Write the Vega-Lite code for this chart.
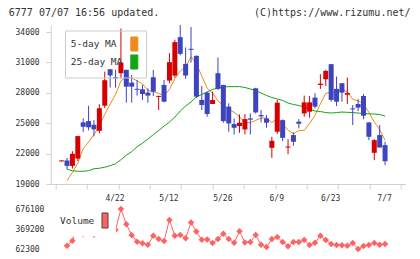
{
  "$schema": "https://vega.github.io/schema/vega-lite/v6.json",
  "width": 355,
  "height": 227,
  "autosize": {"type": "none"},
  "padding": {"left": 50.7, "top": 25, "right": 14.3, "bottom": 7},
  "background": "white",
  "config": {"view": {"stroke": null}, "font": "DejaVu Sans Mono"},
  "data": {
    "values": [
      {"k": 1, "o": 21230, "h": 21330, "l": 21230, "c": 21330},
      {"k": 2, "o": 21320, "h": 21580, "l": 20460, "c": 20790, "ma5": 19317, "ma25": 20457, "vol": 112400},
      {"k": 3, "o": 20790, "h": 22240, "l": 20520, "c": 21980, "ma5": 20160, "ma25": 20308, "vol": 188400},
      {"k": 4, "o": 21515, "h": 23760, "l": 21280, "c": 23730, "ma5": 21050, "ma25": 20259, "vol": 416200},
      {"k": 5, "o": 25085, "h": 25480, "l": 24150, "c": 24650, "ma5": 22486, "ma25": 20259, "vol": 287100},
      {"k": 6, "o": 25210, "h": 26720, "l": 24300, "c": 24600, "ma5": 23150, "ma25": 20308, "vol": 431400},
      {"k": 7, "o": 24850, "h": 25300, "l": 23700, "c": 24400, "ma5": 23872, "ma25": 20506, "vol": 279500},
      {"k": 8, "o": 24250, "h": 26880, "l": 24000, "c": 26480, "ma5": 24772, "ma25": 20556, "vol": 477000},
      {"k": 9, "o": 26730, "h": 30100, "l": 26500, "c": 29250, "ma5": 25876, "ma25": 20655, "vol": 416200},
      {"k": 10, "o": 30330, "h": 30340, "l": 28530, "c": 29720, "ma5": 26890, "ma25": 20804, "vol": 385800},
      {"k": 11, "o": 29550, "h": 30270, "l": 28510, "c": 29430, "ma5": 27856, "ma25": 21002, "vol": 355500},
      {"k": 12, "o": 29940, "h": 34350, "l": 29420, "c": 30990, "ma5": 29174, "ma25": 21398, "vol": 676100},
      {"k": 13, "o": 30270, "h": 30300, "l": 27030, "c": 28610, "ma5": 29600, "ma25": 21844, "vol": 443600},
      {"k": 14, "o": 29010, "h": 29770, "l": 27030, "c": 28610, "ma5": 29472, "ma25": 22191, "vol": 275000},
      {"k": 15, "o": 28400, "h": 29280, "l": 27730, "c": 28300, "ma5": 29188, "ma25": 22687, "vol": 173200},
      {"k": 16, "o": 28350, "h": 28780, "l": 27300, "c": 27890, "ma5": 28880, "ma25": 23033, "vol": 148900},
      {"k": 17, "o": 28020, "h": 28450, "l": 27030, "c": 27725, "ma5": 28227, "ma25": 23430, "vol": 127600},
      {"k": 18, "o": 29540, "h": 30270, "l": 27690, "c": 28120, "ma5": 28129, "ma25": 23876, "vol": 264300},
      {"k": 19, "o": 27600, "h": 27720, "l": 26300, "c": 27700, "ma5": 27947, "ma25": 24272, "vol": 214200},
      {"k": 20, "o": 28780, "h": 29280, "l": 27060, "c": 27130, "ma5": 27713, "ma25": 24718, "vol": 185300},
      {"k": 21, "o": 29210, "h": 31920, "l": 28950, "c": 31030, "ma5": 28341, "ma25": 25114, "vol": 507400},
      {"k": 22, "o": 29710, "h": 33240, "l": 29510, "c": 33010, "ma5": 29398, "ma25": 25610, "vol": 264300},
      {"k": 23, "o": 33500, "h": 34700, "l": 31700, "c": 31850, "ma5": 30144, "ma25": 26205, "vol": 276500},
      {"k": 24, "o": 30860, "h": 32480, "l": 29380, "c": 29710, "ma5": 30546, "ma25": 26700, "vol": 226400},
      {"k": 25, "o": 32350, "h": 34500, "l": 31000, "c": 32250, "ma5": 31570, "ma25": 27096, "vol": 469400},
      {"k": 26, "o": 31650, "h": 31700, "l": 27500, "c": 27630, "ma5": 30890, "ma25": 27592, "vol": 329600},
      {"k": 27, "o": 27300, "h": 28680, "l": 26300, "c": 26800, "ma5": 29648, "ma25": 27840, "vol": 203600},
      {"k": 28, "o": 28020, "h": 28120, "l": 25640, "c": 25910, "ma5": 28460, "ma25": 28087, "vol": 209600},
      {"k": 29, "o": 26900, "h": 28120, "l": 26900, "c": 27300, "ma5": 27978, "ma25": 28335, "vol": 155000},
      {"k": 30, "o": 29940, "h": 31490, "l": 28290, "c": 28390, "ma5": 27206, "ma25": 28484, "vol": 214200},
      {"k": 31, "o": 28780, "h": 28800, "l": 25050, "c": 25210, "ma5": 26722, "ma25": 28583, "vol": 294700},
      {"k": 32, "o": 26640, "h": 26970, "l": 24160, "c": 24980, "ma5": 26358, "ma25": 28613, "vol": 215700},
      {"k": 33, "o": 24920, "h": 25480, "l": 23890, "c": 24550, "ma5": 26086, "ma25": 28613, "vol": 158000},
      {"k": 34, "o": 24720, "h": 25880, "l": 24060, "c": 25050, "ma5": 25636, "ma25": 28613, "vol": 335700},
      {"k": 35, "o": 24390, "h": 25880, "l": 23890, "c": 25410, "ma5": 25040, "ma25": 28533, "vol": 162600},
      {"k": 36, "o": 25480, "h": 25970, "l": 23890, "c": 25350, "ma5": 25068, "ma25": 28385, "vol": 168600},
      {"k": 37, "o": 28450, "h": 28500, "l": 25950, "c": 26070, "ma5": 25286, "ma25": 28236, "vol": 276500},
      {"k": 38, "o": 25810, "h": 26300, "l": 25080, "c": 25680, "ma5": 25512, "ma25": 27988, "vol": 127600},
      {"k": 39, "o": 25480, "h": 25810, "l": 24550, "c": 25050, "ma5": 25512, "ma25": 27741, "vol": 92700},
      {"k": 40, "o": 22570, "h": 23660, "l": 21580, "c": 23270, "ma5": 25084, "ma25": 27542, "vol": 215700},
      {"k": 41, "o": 24160, "h": 27300, "l": 23930, "c": 27030, "ma5": 25420, "ma25": 27394, "vol": 244600},
      {"k": 42, "o": 25310, "h": 25380, "l": 23230, "c": 23560, "ma5": 24918, "ma25": 27245, "vol": 168600},
      {"k": 43, "o": 22600, "h": 23430, "l": 21940, "c": 22700, "ma5": 24322, "ma25": 26997, "vol": 103300},
      {"k": 44, "o": 23830, "h": 24090, "l": 22770, "c": 23170, "ma5": 23946, "ma25": 26849, "vol": 168600},
      {"k": 45, "o": 25150, "h": 25410, "l": 24490, "c": 24950, "ma5": 24282, "ma25": 26750, "vol": 170100},
      {"k": 46, "o": 25970, "h": 27730, "l": 25640, "c": 27060, "ma5": 24288, "ma25": 26601, "vol": 199000},
      {"k": 47, "o": 26140, "h": 27690, "l": 25550, "c": 27060, "ma5": 24988, "ma25": 26403, "vol": 124600},
      {"k": 48, "o": 27530, "h": 27960, "l": 26470, "c": 26640, "ma5": 25776, "ma25": 26205, "vol": 158000},
      {"k": 49, "o": 28780, "h": 29840, "l": 28390, "c": 28910, "ma5": 26924, "ma25": 26155, "vol": 264300},
      {"k": 50, "o": 29340, "h": 30270, "l": 28680, "c": 30170, "ma5": 27968, "ma25": 26056, "vol": 200500},
      {"k": 51, "o": 30830, "h": 30850, "l": 27130, "c": 27300, "ma5": 28016, "ma25": 26006, "vol": 138300},
      {"k": 52, "o": 28390, "h": 29610, "l": 26700, "c": 27130, "ma5": 28030, "ma25": 26056, "vol": 124600},
      {"k": 53, "o": 28950, "h": 28960, "l": 27130, "c": 28020, "ma5": 28306, "ma25": 26105, "vol": 121500},
      {"k": 54, "o": 27820, "h": 29510, "l": 26900, "c": 27990, "ma5": 28122, "ma25": 26076, "vol": 112400},
      {"k": 55, "o": 26470, "h": 26800, "l": 24820, "c": 26370, "ma5": 27362, "ma25": 26056, "vol": 155000},
      {"k": 56, "o": 26900, "h": 27390, "l": 26200, "c": 26540, "ma5": 27210, "ma25": 26006, "vol": 62300},
      {"k": 57, "o": 27690, "h": 27890, "l": 25410, "c": 25740, "ma5": 26932, "ma25": 25957, "vol": 107900},
      {"k": 58, "o": 25080, "h": 25100, "l": 23330, "c": 23660, "ma5": 26060, "ma25": 25927, "vol": 124600},
      {"k": 59, "o": 22080, "h": 23430, "l": 21350, "c": 23330, "ma5": 25128, "ma25": 25907, "vol": 153400},
      {"k": 60, "o": 23830, "h": 24820, "l": 22600, "c": 22600, "ma5": 24374, "ma25": 25858, "vol": 127600},
      {"k": 61, "o": 22840, "h": 23170, "l": 20850, "c": 21250, "ma5": 23316, "ma25": 25709, "vol": 138300}
    ]
  },
  "encoding": {
    "x": {
      "field": "k",
      "type": "quantitative",
      "scale": {"domain": [-0.1, 63.9], "nice": false, "zero": false},
      "axis": {
        "orient": "bottom",
        "offset": -68,
        "grid": false,
        "values": [-0.1, 5.718, 11, 11.536, 17.355, 21, 23.173, 28.991, 31, 34.809, 40.627, 41, 46.445, 51, 52.264, 58.082, 61, 63.9],
        "domainColor": "#d0d0d0",
        "domainWidth": 1,
        "tickColor": "#d0d0d0",
        "tickSize": 5,
        "tickWidth": 1,
        "tickOpacity": {"condition": {"test": "datum.value == 11 || datum.value == 21 || datum.value == 31 || datum.value == 41 || datum.value == 51 || datum.value == 61", "value": 0}, "value": 1},
        "labelExpr": "datum.value == 11 ? '4/22' : datum.value == 21 ? '5/12' : datum.value == 31 ? '5/26' : datum.value == 41 ? '6/9' : datum.value == 51 ? '6/23' : datum.value == 61 ? '7/7' : ''",
        "labelOverlap": false,
        "labelFlush": false,
        "labelBound": false,
        "labelOffset": -1,
        "labelPadding": 5.5,
        "labelFont": "DejaVu Sans Mono",
        "labelFontSize": 8,
        "labelColor": "#333333",
        "title": "(C)https://www.rizumu.net/",
        "titleX": 359.3,
        "titleY": -168.2,
        "titleAlign": "right",
        "titleBaseline": "alphabetic",
        "titleAngle": 0,
        "titleFont": "DejaVu Sans Mono",
        "titleFontSize": 10,
        "titleFontWeight": "normal",
        "titleColor": "#333333"
      }
    }
  },
  "layer": [
    {
      "layer": [
        {
          "transform": [{"fold": ["ma5", "ma25"], "as": ["series", "v"]}],
          "mark": {"type": "line", "strokeWidth": 1, "interpolate": "linear"},
          "encoding": {
            "y": {
              "field": "v",
              "type": "quantitative",
              "scale": {"domain": [19000, 34700], "range": [159, 0], "nice": false, "zero": false},
              "axis": {
                "orient": "left",
                "values": [19000, 22000, 25000, 28000, 31000, 34000],
                "format": "d",
                "grid": false,
                "domainColor": "#d0d0d0",
                "domainWidth": 1,
                "tickColor": "#d0d0d0",
                "tickSize": 5,
                "tickWidth": 1,
                "labelAlign": "left",
                "labelBaseline": "middle",
                "labelPadding": 30.7,
                "labelOverlap": false,
                "labelFont": "DejaVu Sans Mono",
                "labelFontSize": 8,
                "labelColor": "#333333",
                "title": "6777 07/07 16:56 updated.",
                "titleX": -42.4,
                "titleY": -9.2,
                "titleAlign": "left",
                "titleBaseline": "alphabetic",
                "titleAngle": 0,
                "titleFont": "DejaVu Sans Mono",
                "titleFontSize": 10,
                "titleFontWeight": "normal",
                "titleColor": "#333333"
              }
            },
            "stroke": {
              "field": "series",
              "type": "nominal",
              "scale": {"domain": ["ma5", "ma25"], "range": ["#f08a1c", "#14a514"]},
              "legend": {
                "orient": "none",
                "legendX": 14.3,
                "legendY": 5.5,
                "direction": "vertical",
                "title": null,
                "symbolType": "M-0.5,-1H0.5V1H-0.5Z",
                "symbolSize": 196,
                "symbolStrokeColor": "#444444",
                "symbolStrokeWidth": 1,
                "labelExpr": "datum.value == 'ma5' ? ' 5-day MA' : '25-day MA'",
                "labelAlign": "left",
                "labelOffset": -71,
                "symbolOffset": 55.8,
                "labelFont": "DejaVu Sans Mono",
                "labelFontSize": 9.5,
                "labelColor": "#333333",
                "padding": 6,
                "rowPadding": -1,
                "strokeColor": "#cccccc",
                "encode": {
                  "symbols": {
                    "update": {
                      "fill": {"signal": "scale('stroke', datum.value)"},
                      "stroke": {"value": "#444444"}
                    }
                  }
                }
              }
            }
          }
        },
        {
          "mark": {"type": "rule", "strokeWidth": 1},
          "encoding": {
            "y": {"field": "l", "type": "quantitative"},
            "y2": {"field": "h"},
            "color": {"condition": {"test": "datum.c >= datum.o", "value": "#d60000"}, "value": "#3c44c0"}
          }
        },
        {
          "mark": {"type": "bar", "size": 5},
          "encoding": {
            "y": {"field": "o", "type": "quantitative"},
            "y2": {"field": "c"},
            "color": {"condition": {"test": "datum.c >= datum.o", "value": "#d60000"}, "value": "#3c44c0"}
          }
        }
      ]
    },
    {
      "transform": [{"fold": ["vol"], "as": ["series", "v"]}],
      "layer": [
        {
          "mark": {"type": "line", "color": "#ff6262", "strokeWidth": 1},
          "encoding": {
            "y": {
              "field": "v",
              "type": "quantitative",
              "scale": {"domain": [62300, 676100], "range": [224, 184], "nice": false, "zero": false},
              "axis": {
                "orient": "left",
                "values": [62300, 369200, 676100],
                "format": "d",
                "grid": false,
                "domain": false,
                "ticks": false,
                "tickSize": 0,
                "labelAlign": "left",
                "labelBaseline": "middle",
                "labelPadding": 35.7,
                "labelOverlap": false,
                "labelFont": "DejaVu Sans Mono",
                "labelFontSize": 8,
                "labelColor": "#333333",
                "title": null
              }
            }
          }
        },
        {
          "mark": {"type": "point", "shape": "diamond", "filled": true, "size": 42, "opacity": 1, "strokeWidth": 0},
          "encoding": {
            "y": {"field": "v", "type": "quantitative"},
            "fill": {
              "field": "series",
              "type": "nominal",
              "scale": {"domain": ["vol"], "range": ["#ff6262"]},
              "legend": {
                "orient": "none",
                "legendX": 2.3,
                "legendY": 181.5,
                "direction": "vertical",
                "title": null,
                "symbolType": "M-0.4,-1H0.4V1H-0.4Z",
                "symbolSize": 225,
                "symbolStrokeColor": "#444444",
                "symbolStrokeWidth": 1,
                "labelExpr": "'Volume'",
                "labelAlign": "left",
                "labelOffset": -53,
                "symbolOffset": 38,
                "labelFont": "DejaVu Sans Mono",
                "labelFontSize": 9.5,
                "labelColor": "#333333",
                "padding": 6,
                "fillColor": "white"
              }
            }
          }
        }
      ]
    }
  ],
  "resolve": {"scale": {"y": "independent"}, "axis": {"y": "independent"}}
}
